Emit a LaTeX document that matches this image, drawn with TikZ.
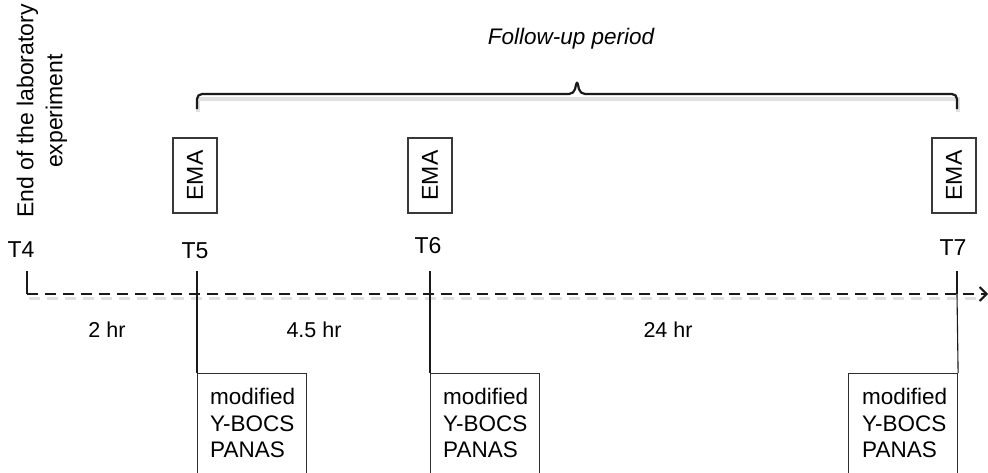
\documentclass[tikz,border=0pt]{standalone}
\usepackage{fontspec}
\setmainfont{Liberation Sans}
\usetikzlibrary{arrows.meta}
\begin{document}
\begin{tikzpicture}[x=1pt,y=-1pt,
  ink/.style={draw=black!90},
  lbl/.style={font=\fontsize{21.5}{26}\selectfont, inner sep=0pt, anchor=base},
  tlbl/.style={font=\fontsize{23}{26}\selectfont, inner sep=0pt, anchor=base},
  emabox/.style={draw=black!78, line width=1.2pt, rotate=90, minimum width=75pt, minimum height=44pt, inner sep=0pt, font=\fontsize{23}{26}\selectfont},
  mbox/.style={draw=black!82, line width=1.1pt, minimum width=109pt, minimum height=120pt, inner sep=0pt, anchor=north west},
  mtext/.style={font=\fontsize{22.5}{26.5}\selectfont, align=left, inner sep=0pt, anchor=north west},
  tick/.style={ink, line width=2.2pt},
  drop/.style={ink, line width=1.1pt},
  axis/.style={ink, line width=2.2pt, dash pattern=on 11pt off 7pt},
  shade/.style={draw=black!12, line width=3.5pt}
]
\useasboundingbox (0,0) rectangle (988,472);
\clip (0,0) rectangle (988,472);

% coordinates on the axis
\coordinate (a4) at (27,294);
\coordinate (a5) at (197,294);
\coordinate (a6) at (430,294);
\coordinate (a7) at (957,294);
\coordinate (aend) at (988,294);
\coordinate (k4) at (27,271);
\coordinate (k5) at (197,271);
\coordinate (k6) at (430,271);
\coordinate (k7) at (957,271);

% brace
\coordinate (bl) at (197,109);
\coordinate (br) at (957,109);
\draw[shade] (198,112) -- (198,99) -- (958,99) -- (958,112);
\draw[ink, line width=2.2pt, rounded corners=5pt] (bl) -- (197,94) -- (574,94) -- (577,80) -- (580,94) -- (957,94) -- (br);
\node[font=\fontsize{22.5}{26}\selectfont\itshape, inner sep=0pt, anchor=base] (fu) at (571,44) {Follow-up period};

% rotated title
\node[rotate=90, font=\fontsize{23}{29}\selectfont, align=center, inner sep=0pt] (end) at (42,111) {End of the laboratory\\experiment};

% EMA boxes
\node[emabox] (e5) at (195,175.5) {EMA};
\node[emabox] (e6) at (430,175.5) {EMA};
\node[emabox] (e7) at (954,175.5) {EMA};

% T labels
\node[tlbl] (t4) at (21,257) {T4};
\node[tlbl] (t5) at (195,258) {T5};
\node[tlbl] (t6) at (428,253) {T6};
\node[tlbl] (t7) at (953,255) {T7};

% axis
\draw[shade, dash pattern=on 11pt off 7pt] (29,298.5) -- (980,298.5);
\draw[axis, -{Straight Barb[length=7pt,width=14pt,line width=2pt]}] (a4) -- (aend);
\draw[tick] (k4) -- (a4);
\draw[tick] (k5) -- (a5);
\draw[tick] (k6) -- (a6);
\draw[tick] (k7) -- (a7);

% interval labels
\node[lbl] (h1) at (107,337) {2 hr};
\node[lbl] (h2) at (314,337) {4.5 hr};
\node[lbl] (h3) at (668,337) {24 hr};

% measurement boxes
\node[mbox] (b5) at (197,373) {};
\node[mbox] (b6) at (430,373) {};
\node[mbox] (b7) at (848,373) {};
\node[mtext] (m5) at (210,388) {modified\\Y-BOCS\\PANAS};
\node[mtext] (m6) at (443,388) {modified\\Y-BOCS\\PANAS};
\node[mtext] (m7) at (862,388) {modified\\Y-BOCS\\PANAS};

% drop lines
\draw[drop] (a5) -- (b5.north west);
\draw[drop] (a6) -- (b6.north west);
\draw[drop] (a7) -- (b7.north east);
\end{tikzpicture}
\end{document}
